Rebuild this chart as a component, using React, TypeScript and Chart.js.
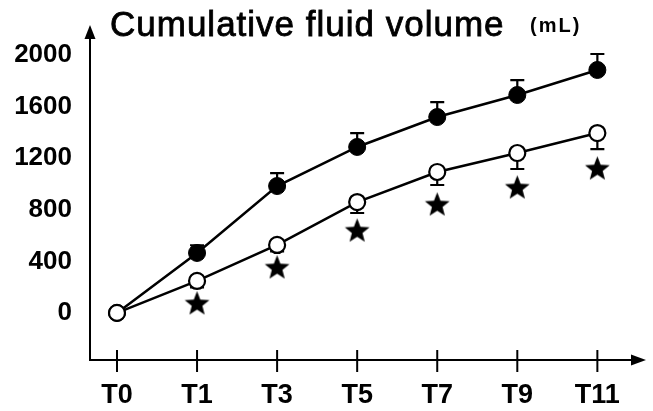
import React, { useEffect, useRef } from "react";
import { Chart, registerables } from "chart.js";

Chart.register(...registerables);

// ---- data ----
const timeLabels = ["T0", "T1", "T3", "T5", "T7", "T9", "T11"];
const xIndex = [0, 1, 2, 3, 4, 5, 6];
const yTickValues = [0, 400, 800, 1200, 1600, 2000];

// filled circles (upper curve)
const filledVolume = [0, 465, 984, 1287, 1519, 1690, 1884];
const filledErrUp = [0, 60, 100, 108, 116, 116, 124];

// open circles (lower curve)
const openVolume = [0, 248, 527, 860, 1093, 1240, 1395];
const openErrDown = [0, 50, 50, 85, 101, 124, 124];

// significance stars (below open circles)
const starIndex = [1, 2, 3, 4, 5, 6];
const starValue = [78, 357, 643, 845, 977, 1124];

const titleText = "Cumulative fluid volume";
const unitText = "(mL)";

function makeStar(size: number): HTMLCanvasElement {
  const c = document.createElement("canvas");
  c.width = size;
  c.height = size;
  const ctx = c.getContext("2d")!;
  const cx = size / 2;
  const cy = size / 2 + 1.2;
  const outer = size / 2 - 0.5;
  const inner = outer * 0.43;
  ctx.beginPath();
  for (let i = 0; i < 10; i++) {
    const r = i % 2 === 0 ? outer : inner;
    const a = -Math.PI / 2 + (i * Math.PI) / 5;
    const px = cx + r * Math.cos(a);
    const py = cy + r * Math.sin(a);
    if (i === 0) ctx.moveTo(px, py);
    else ctx.lineTo(px, py);
  }
  ctx.closePath();
  ctx.fillStyle = "#000";
  ctx.fill();
  return c;
}

export default function App() {
  const ref = useRef<HTMLCanvasElement | null>(null);

  useEffect(() => {
    document.body.style.margin = "0";
    const canvas = ref.current;
    if (!canvas) return;
    const star = makeStar(27);

    const decor = {
      id: "decor",
      beforeDatasetsDraw(chart: any) {
        const ctx = chart.ctx;
        const xs = chart.scales.x;
        const ys = chart.scales.y;
        ctx.save();
        ctx.strokeStyle = "#000";
        ctx.lineWidth = 2.2;
        const cap = 7;
        xIndex.forEach((xi, i) => {
          const x = xs.getPixelForValue(xi);
          if (filledErrUp[i] > 0) {
            const y0 = ys.getPixelForValue(filledVolume[i]);
            const y1 = ys.getPixelForValue(filledVolume[i] + filledErrUp[i]);
            ctx.beginPath();
            ctx.moveTo(x, y0);
            ctx.lineTo(x, y1);
            ctx.moveTo(x - cap, y1);
            ctx.lineTo(x + cap, y1);
            ctx.stroke();
          }
          if (openErrDown[i] > 0) {
            const y0 = ys.getPixelForValue(openVolume[i]);
            const y1 = ys.getPixelForValue(openVolume[i] - openErrDown[i]);
            ctx.beginPath();
            ctx.moveTo(x, y0);
            ctx.lineTo(x, y1);
            ctx.moveTo(x - cap, y1);
            ctx.lineTo(x + cap, y1);
            ctx.stroke();
          }
        });
        ctx.restore();
      },
      afterDraw(chart: any) {
        const ctx = chart.ctx;
        const xs = chart.scales.x;
        const area = chart.chartArea;
        ctx.save();
        ctx.fillStyle = "#000";
        ctx.strokeStyle = "#000";
        // y-axis arrow
        ctx.beginPath();
        ctx.moveTo(area.left, area.top - 5);
        ctx.lineTo(area.left - 5.5, area.top + 9);
        ctx.lineTo(area.left + 5.5, area.top + 9);
        ctx.closePath();
        ctx.fill();
        // x-axis arrow
        ctx.beginPath();
        ctx.moveTo(area.right + 7, area.bottom);
        ctx.lineTo(area.right - 8, area.bottom - 5.5);
        ctx.lineTo(area.right - 8, area.bottom + 5.5);
        ctx.closePath();
        ctx.fill();
        // x tick marks crossing the axis
        ctx.lineWidth = 2;
        xIndex.forEach((xi) => {
          const x = xs.getPixelForValue(xi);
          ctx.beginPath();
          ctx.moveTo(x, area.bottom - 10);
          ctx.lineTo(x, area.bottom + 12);
          ctx.stroke();
        });
        // title
        ctx.textBaseline = "alphabetic";
        ctx.textAlign = "left";
        ctx.font = '35px "Liberation Sans", Arial, sans-serif';
        (ctx as any).letterSpacing = "1px";
        ctx.lineWidth = 0.8;
        ctx.fillText(titleText, 110, 36);
        ctx.strokeText(titleText, 110, 36);
        ctx.font = 'bold 20px "Liberation Sans", Arial, sans-serif';
        (ctx as any).letterSpacing = "2px";
        ctx.fillText(unitText, 530, 32);
        (ctx as any).letterSpacing = "0px";
        ctx.restore();
      },
    };

    const yFont = { family: '"Liberation Sans", Arial, sans-serif', size: 26, weight: "bold" as const };
    const xFont = { family: '"Liberation Sans", Arial, sans-serif', size: 27, weight: "bold" as const };

    const chart = new Chart(canvas, {
      type: "line",
      data: {
        datasets: [
          {
            label: "open",
            data: xIndex.map((x, i) => ({ x, y: openVolume[i] })),
            borderColor: "#000",
            borderWidth: 2.5,
            pointRadius: 8,
            pointBorderWidth: 2.2,
            pointBackgroundColor: "#fff",
            pointBorderColor: "#000",
            tension: 0,
          },
          {
            label: "filled",
            data: xIndex.map((x, i) => ({ x, y: filledVolume[i] })),
            borderColor: "#000",
            borderWidth: 2.5,
            pointRadius: 8.5,
            pointBorderWidth: 1,
            pointBackgroundColor: "#000",
            pointBorderColor: "#000",
            tension: 0,
          },
          {
            label: "stars",
            data: starIndex.map((x, i) => ({ x, y: starValue[i] })),
            showLine: false,
            pointStyle: star as any,
            pointRadius: 13,
          },
        ],
      },
      options: {
        responsive: false,
        maintainAspectRatio: false,
        animation: false,
        events: [],
        layout: { padding: { top: 30, right: 13, left: 0, bottom: 0 } },
        plugins: {
          legend: { display: false },
          tooltip: { enabled: false },
          title: { display: false },
        },
        scales: {
          x: {
            type: "linear",
            min: -0.337,
            max: 6.52,
            grid: { display: true, drawOnChartArea: false, drawTicks: false },
            border: { display: true, color: "#000", width: 2 },
            afterBuildTicks: (s: any) => {
              s.ticks = xIndex.map((v) => ({ value: v }));
            },
            afterFit: (s: any) => {
              s.height = 51;
              s.paddingLeft = 0;
              s.paddingRight = 0;
            },
            ticks: {
              autoSkip: false,
              maxRotation: 0,
              padding: 19,
              color: "#000",
              font: xFont,
              callback: (v: any) => {
                const i = xIndex.indexOf(Number(v));
                return i >= 0 ? timeLabels[i] : "";
              },
            },
          },
          y: {
            type: "linear",
            min: -365,
            max: 2194,
            grid: { display: true, drawOnChartArea: false, drawTicks: false },
            border: { display: true, color: "#000", width: 2 },
            afterBuildTicks: (s: any) => {
              s.ticks = yTickValues.map((v) => ({ value: v }));
            },
            afterFit: (s: any) => {
              s.width = 90;
              s.paddingTop = 0;
              s.paddingBottom = 0;
            },
            ticks: {
              padding: 18,
              color: "#000",
              font: yFont,
              callback: (v: any) => String(v),
            },
          },
        },
      },
      plugins: [decor],
    });

    return () => chart.destroy();
  }, []);

  return (
    <div style={{ width: 653, height: 411, background: "#fff" }}>
      <canvas ref={ref} width={653} height={411} style={{ display: "block" }} />
    </div>
  );
}
